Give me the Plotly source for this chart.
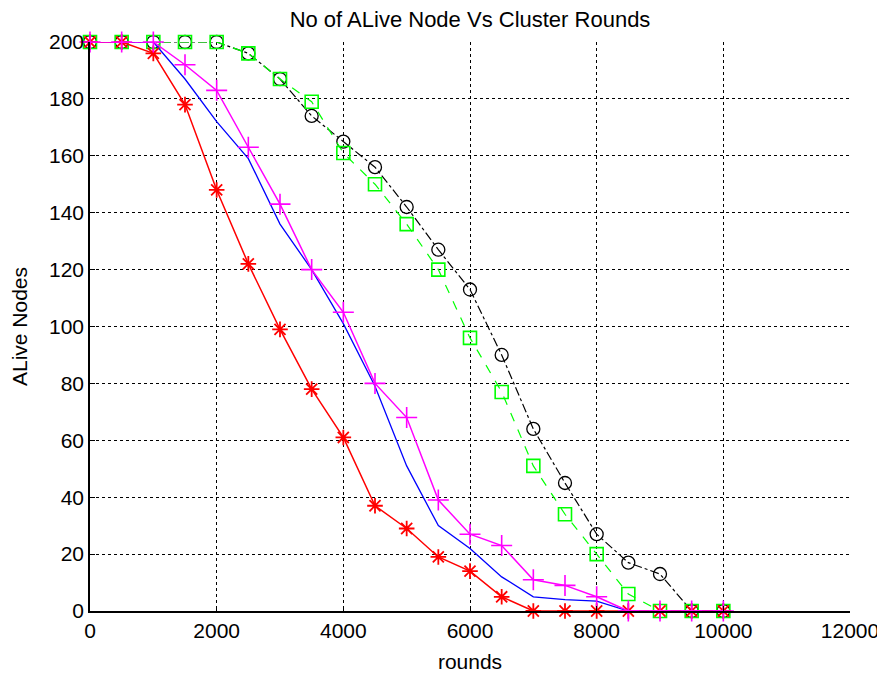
import plotly.graph_objects as go

rounds = [0, 500, 1000, 1500, 2000, 2500, 3000, 3500, 4000, 4500, 5000,
          5500, 6000, 6500, 7000, 7500, 8000, 8500, 9000, 9500, 10000]

black_vals = [200, 200, 200, 200, 200, 196, 187, 174, 165, 156, 142,
              127, 113, 90, 64, 45, 27, 17, 13, 0, 0]
green_vals = [200, 200, 200, 200, 200, 196, 187, 179, 161, 150, 136,
              120, 96, 77, 51, 34, 20, 6, 0, 0, 0]
blue_vals = [200, 200, 200, 187, 172, 159, 136, 120, 101, 79, 51,
             30, 22, 12, 5, 4, 3.5, 0, 0, 0, 0]
red_vals = [200, 200, 196, 178, 148, 122, 99, 78, 61, 37, 29,
            19, 14, 5, 0, 0, 0, 0, 0, 0, 0]
magenta_vals = [200, 200, 200, 192, 183, 163, 143, 120, 105, 80, 68,
                39, 27, 23, 11, 9, 5, 0, 0, 0, 0]

x_ticks = [0, 2000, 4000, 6000, 8000, 10000, 12000]
y_ticks = [0, 20, 40, 60, 80, 100, 120, 140, 160, 180, 200]

FONT = "Liberation Sans, Arial, sans-serif"

fig = go.Figure()
fig.add_trace(go.Scatter(x=rounds, y=black_vals, mode="lines+markers", cliponaxis=False,
                         line=dict(color="#000000", width=1.2, dash="dashdot"),
                         marker=dict(symbol="circle-open", size=13, color="#000000", line=dict(width=1.3))))
fig.add_trace(go.Scatter(x=rounds, y=green_vals, mode="lines+markers", cliponaxis=False,
                         line=dict(color="#00ff00", width=1.2, dash="dash"),
                         marker=dict(symbol="square-open", size=13, color="#00ff00", line=dict(width=1.6))))
fig.add_trace(go.Scatter(x=rounds, y=blue_vals, mode="lines", cliponaxis=False,
                         line=dict(color="#0000ff", width=1.3)))
fig.add_trace(go.Scatter(x=rounds, y=red_vals, mode="lines+markers", cliponaxis=False,
                         line=dict(color="#ff0000", width=1.5),
                         marker=dict(symbol="asterisk-open", size=13, color="#ff0000", line=dict(width=1.8, color="#ff0000"))))
fig.add_trace(go.Scatter(x=rounds, y=magenta_vals, mode="lines+markers", cliponaxis=False,
                         line=dict(color="#ff00ff", width=1.5),
                         marker=dict(symbol="cross-thin-open", size=15, color="#ff00ff", line=dict(width=1.6, color="#ff00ff"))))

axis_common = dict(
    showgrid=True, gridcolor="#000000", gridwidth=1, griddash="dot",
    zeroline=False, showline=True, linecolor="#000000", linewidth=1.5,
    ticks="inside", ticklen=5, tickcolor="#000000", automargin=False,
    tickfont=dict(family=FONT, size=21, color="#000000"),
)

fig.update_xaxes(range=[0, 12000], tickvals=x_ticks, ticktext=[str(v) for v in x_ticks],
                 title=dict(text="rounds", font=dict(family=FONT, size=21, color="#000000"), standoff=14),
                 **axis_common)
fig.update_yaxes(range=[0, 200], tickvals=y_ticks, ticktext=[str(v) for v in y_ticks],
                 title=dict(text="ALive Nodes", font=dict(family=FONT, size=21, color="#000000"), standoff=17),
                 **axis_common)

# The page adds an 8px body margin, so the figure is sized/offset to compensate.
fig.update_layout(
    width=877, height=665,
    margin=dict(l=82, r=35, t=34, b=62),
    paper_bgcolor="#ffffff", plot_bgcolor="#ffffff",
    showlegend=False,
    title=dict(text="No of ALive Node Vs Cluster Rounds", x=0.5, xanchor="center", xref="paper",
               y=1, yref="container", yanchor="top", pad=dict(t=4),
               font=dict(family=FONT, size=22, color="#000000")),
)

fig.write_html("out.html")
